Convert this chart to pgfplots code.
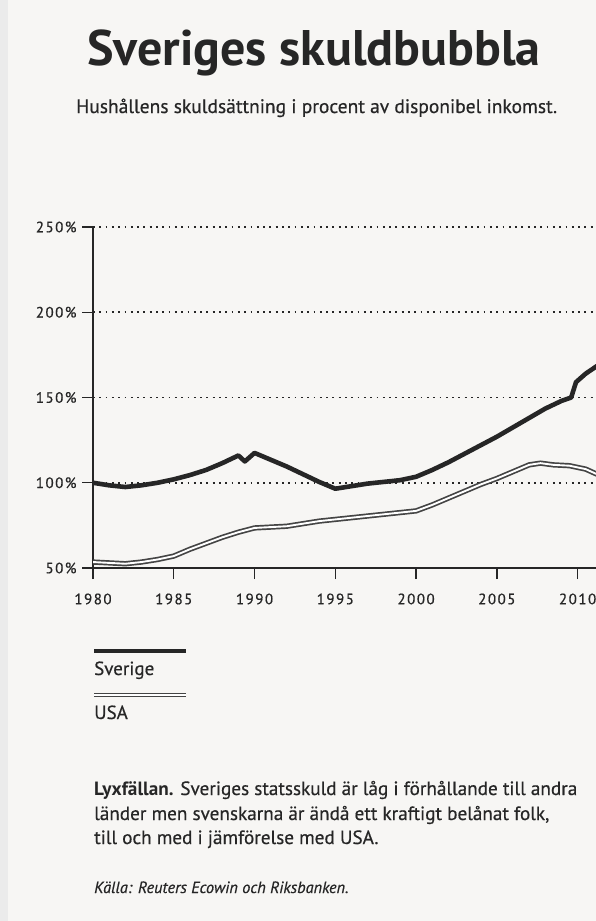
\documentclass[border=0pt]{standalone}
\usepackage{pgfplots}
\pgfplotsset{compat=1.18}
\usepackage{fontspec}
\setmainfont{PT Sans}[UprightFeatures={FakeBold=0.5}, ItalicFeatures={FakeBold=0.5}]
\newfontfamily\tickfont[LetterSpace=10, FakeBold=0.6]{PT Sans}
\definecolor{ink}{HTML}{262626}
\definecolor{paper}{HTML}{F7F6F4}
\definecolor{usaline}{HTML}{444444}

\pgfplotstableread{
year  debt
1980  100
1981  98.5
1982  97.5
1983  98.5
1984  100
1985  102
1986  104.5
1987  107.5
1988  111.5
1989  116
1989.4 112.5
1990  117.5
1991  113.5
1992  109.5
1993  105
1994  100.5
1995  96.5
1996  98
1997  99.5
1998  100.5
1999  101.5
2000  103.5
2001  107.5
2002  112
2003  117
2004  122
2005  127
2006  132.5
2007  138
2008  143.5
2009  148
2009.6 150
2009.9 159
2010.5 164
2011.2 168.5
}\sverige

\pgfplotstableread{
year  debt
1980  53.5
1981  53
1982  52.5
1983  53.5
1984  55
1985  57
1986  61
1987  64.5
1988  68
1989  71
1990  73.5
1991  74
1992  74.5
1993  76
1994  77.5
1995  78.5
1996  79.5
1997  80.5
1998  81.5
1999  82.5
2000  83.5
2001  87
2002  91
2003  95
2004  99
2005  102.5
2006  106.5
2007  110.5
2007.7 111.5
2008.5 110.5
2009.5 110
2010.5 108
2011.2 105
}\usa

\begin{document}
\begin{tikzpicture}
\useasboundingbox (0pt,0pt) rectangle (596pt,-921pt);
\fill[paper] (0pt,0pt) rectangle (596pt,-921pt);
\fill[black!8] (0pt,0pt) rectangle (8pt,-921pt);

% titles
\node[anchor=base west, inner sep=0pt, text=ink] at (87pt,-65pt)
  {\fontsize{50}{50}\selectfont\bfseries Sveriges skuldbubbla};
\node[anchor=base west, inner sep=0pt, text=ink] at (76pt,-113pt)
  {\fontsize{19.5}{19.5}\selectfont Hushållens skuldsättning i procent av disponibel inkomst.};

\begin{axis}[
    at={(93pt,-568pt)}, anchor=south west,
    scale only axis,
    width=504pt, height=341pt,
    xmin=1980, xmax=2011.2,
    ymin=50, ymax=250,
    axis lines*=left,
    axis line style={ink, line width=1.4pt},
    xtick={1980,1985,...,2010},
    ytick={50,100,...,250},
    tick align=outside,
    major tick length=11pt,
    tick style={ink, line width=1.4pt},
    ymajorgrids,
    grid style={ink, line width=1.8pt, dash pattern=on 1.8pt off 4.5pt},
    /pgf/number format/.cd, 1000 sep={}, assume math mode=true,
    /pgfplots/.cd,
    ticklabel style={font=\tickfont\fontsize{15}{15}\selectfont, text=ink},
    xticklabel style={yshift=-11pt},
    yticklabel style={xshift=-2pt},
    yticklabel={\pgfmathprintnumber{\tick}\%},
    clip=true,
]
\addplot[usaline, line width=1.7pt, double=white, double distance=1.9pt] table[x=year, y=debt] {\usa};
\addplot[ink, line width=4.6pt, line join=round] table[x=year, y=debt] {\sverige};
\end{axis}

% legend
\draw[ink, line width=3.4pt] (94pt,-651pt) -- (186pt,-651pt);
\node[anchor=base west, inner sep=0pt, text=ink] at (94pt,-675pt)
  {\fontsize{19}{19}\selectfont Sverige};
\draw[usaline, line width=1.4pt, double=white, double distance=1.6pt] (94pt,-695pt) -- (186pt,-695pt);
\node[anchor=base west, inner sep=0pt, text=ink] at (94pt,-719pt)
  {\fontsize{19}{19}\selectfont USA};

% caption
\node[anchor=base west, inner sep=0pt, text=ink] at (94pt,-795pt)
  {\fontsize{19.2}{19.2}\selectfont\textbf{Lyxfällan.} Sveriges statsskuld är låg i förhållande till andra};
\node[anchor=base west, inner sep=0pt, text=ink] at (94pt,-820pt)
  {\fontsize{19.2}{19.2}\selectfont länder men svenskarna är ändå ett kraftigt belånat folk,};
\node[anchor=base west, inner sep=0pt, text=ink] at (94pt,-844pt)
  {\fontsize{19.2}{19.2}\selectfont till och med i jämförelse med USA.};
\node[anchor=base west, inner sep=0pt, text=ink] at (94pt,-893pt)
  {\fontsize{16.3}{16.3}\selectfont\itshape Källa: Reuters Ecowin och Riksbanken.};
\end{tikzpicture}
\end{document}
